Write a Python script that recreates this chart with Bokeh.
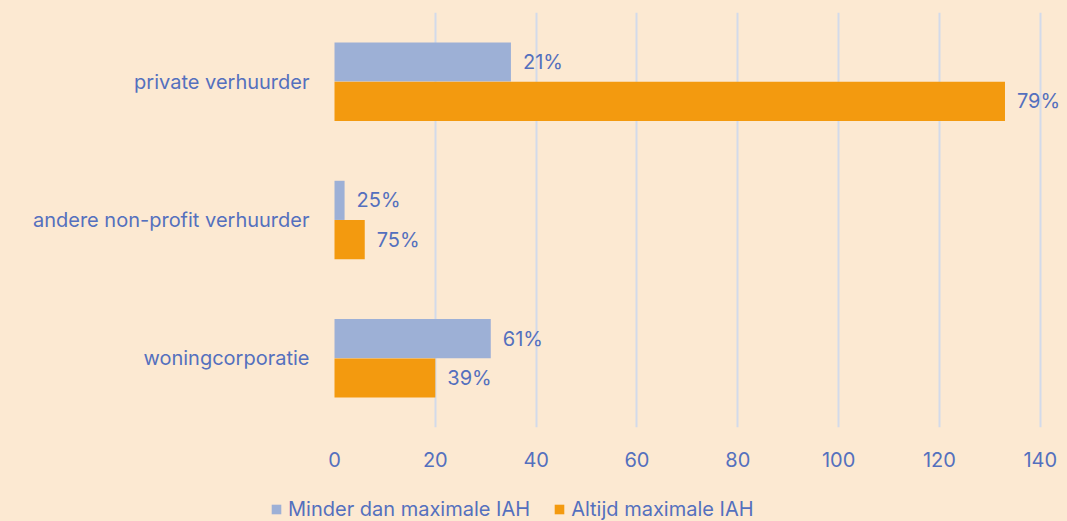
from bokeh.plotting import figure
from bokeh.layouts import column, row
from bokeh.models import ColumnDataSource, FactorRange, Legend, LegendItem, FixedTicker, LabelSet, Range1d
from bokeh.transform import dodge
from bokeh.core.properties import value
from bokeh.embed import file_html
from bokeh.resources import INLINE

categories = ["woningcorporatie", "andere non-profit verhuurder", "private verhuurder"]
minder = [31, 2, 35]
altijd = [20, 6, 133]
minder_pct = ["61%", "25%", "21%"]
altijd_pct = ["39%", "75%", "79%"]
x_ticks = [0, 20, 40, 60, 80, 100, 120, 140]
series_names = ["Minder dan maximale IAH", "Altijd maximale IAH"]

BG = "#FCE9D2"
BLUE_BAR = "#9DB0D6"
ORANGE = "#F39A0F"
TXT = "#5470BE"
GRID = "#D3DAEA"
FONT = "Inter"
FS = "20px"

src = ColumnDataSource(dict(cat=categories, minder=minder, altijd=altijd,
                            mp=minder_pct, ap=altijd_pct))

p = figure(width=1067, height=485, y_range=FactorRange(*categories),
           x_range=Range1d(0, 145.4),
           output_backend="svg", toolbar_location=None,
           background_fill_color=BG, border_fill_color=BG,
           min_border_left=334, min_border_right=0, min_border_top=12, min_border_bottom=58)
p.outline_line_color = None

r1 = p.hbar(y=dodge("cat", 0.142, range=p.y_range), right="minder", left=0, height=0.283,
            source=src, color=BLUE_BAR, line_color=None)
r2 = p.hbar(y=dodge("cat", -0.142, range=p.y_range), right="altijd", left=0, height=0.283,
            source=src, color=ORANGE, line_color=None)
r1.level = "overlay"
r2.level = "overlay"

for col, lab, off in [("minder", "mp", 0.142), ("altijd", "ap", -0.142)]:
    ls = LabelSet(x=col, y=dodge("cat", off, range=p.y_range), text=lab, source=src,
                  x_offset=12, text_baseline="middle", text_font=value(FONT),
                  text_font_size=FS, text_color=TXT)
    p.add_layout(ls)

p.xaxis.ticker = FixedTicker(ticks=x_ticks)
p.xaxis.axis_line_color = None
p.xaxis.major_tick_line_color = None
p.xaxis.minor_tick_line_color = None
p.xaxis.major_label_text_font = FONT
p.xaxis.major_label_text_font_size = FS
p.xaxis.major_label_text_color = TXT
p.xaxis.major_label_standoff = 18

p.yaxis.axis_line_color = None
p.yaxis.major_tick_line_color = None
p.yaxis.major_label_text_font = FONT
p.yaxis.major_label_text_font_size = FS
p.yaxis.major_label_text_color = TXT
p.yaxis.major_label_standoff = 19

p.ygrid.grid_line_color = None
p.xgrid.grid_line_color = GRID
p.xgrid.grid_line_width = 2

# legend strip below the chart
p2 = figure(width=1067, height=36, x_range=Range1d(1000, 2000), y_range=FactorRange(*categories),
            output_backend="svg", toolbar_location=None,
            x_axis_location=None, y_axis_location=None,
            background_fill_color=BG, border_fill_color=BG,
            min_border=0, min_border_left=0, min_border_right=0, min_border_top=0, min_border_bottom=0)
p2.outline_line_color = None
p2.grid.visible = False
q1 = p2.hbar(y="cat", right="minder", left="minder", height=0.0, source=src,
             color=BLUE_BAR, line_color=None)
q2 = p2.hbar(y="cat", right="altijd", left="altijd", height=0.0, source=src,
             color=ORANGE, line_color=None)

legend = Legend(items=[LegendItem(label=series_names[0], renderers=[q1]),
                       LegendItem(label=series_names[1], renderers=[q2])],
                orientation="horizontal", location=(270, 0),
                background_fill_alpha=0, border_line_color=None,
                label_text_font=FONT, label_text_font_size=FS, label_text_color=TXT,
                glyph_width=12, glyph_height=12, spacing=23, label_standoff=6,
                padding=0, margin=0)
p2.add_layout(legend, "center")

layout = column(p, row(p2, spacing=0), spacing=0)
html = file_html(layout, INLINE)
html = html.replace("<head>", "<head><style>body{background:%s;}</style>" % BG, 1)
open("out.html", "w").write(html)
